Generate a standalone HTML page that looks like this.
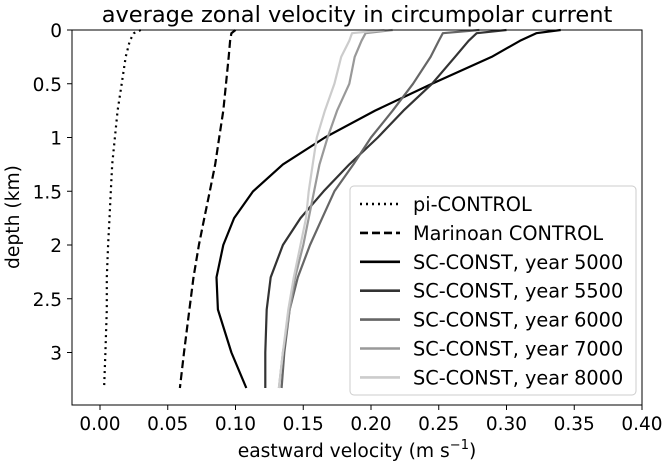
<!DOCTYPE html>
<html><head><meta charset="utf-8"><style>
body{margin:0;background:#fff}
svg text{font-family:"DejaVu Sans","Liberation Sans",sans-serif;fill:#000}
</style></head><body>
<svg id="chart" width="669" height="465" viewBox="0 0 669 465">
<text x="357" y="22" text-anchor="middle" font-size="22.5">average zonal velocity in circumpolar current</text>
<g id="series"></g>
<rect x="72" y="30" width="570" height="375" fill="none" stroke="#000" stroke-width="1"/>
<g id="xticks"></g>
<g id="yticks"></g>
<text x="357" y="457" text-anchor="middle" font-size="18.7">eastward velocity (m s<tspan dy="-8" font-size="13">−1</tspan><tspan dy="8">)</tspan></text>
<text transform="translate(19,217) rotate(-90)" text-anchor="middle" font-size="18.7">depth (km)</text>
<g id="legend"></g>
</svg>
<script>
const depths=[0,0.03,0.1,0.25,0.5,0.75,1.0,1.25,1.5,1.75,2.0,2.3,2.6,3.0,3.33];
const piControl=[0.030,0.025,0.022,0.019,0.016,0.013,0.011,0.009,0.008,0.007,0.006,0.005,0.005,0.004,0.003];
const marinoan=[0.100,0.097,0.096,0.095,0.093,0.091,0.088,0.085,0.081,0.077,0.073,0.069,0.066,0.062,0.059];
const y5000=[0.340,0.322,0.310,0.289,0.245,0.203,0.166,0.135,0.113,0.099,0.091,0.086,0.087,0.097,0.108];
const y5500=[0.300,0.278,0.272,0.262,0.245,0.224,0.205,0.184,0.165,0.148,0.135,0.126,0.123,0.122,0.122];
const y6000=[0.280,0.253,0.250,0.244,0.231,0.216,0.200,0.187,0.173,0.164,0.155,0.146,0.140,0.136,0.134];
const y7000=[0.216,0.196,0.193,0.188,0.184,0.175,0.168,0.162,0.158,0.154,0.150,0.144,0.140,0.135,0.132];
const y8000=[0.210,0.186,0.184,0.178,0.173,0.166,0.160,0.157,0.154,0.152,0.148,0.143,0.139,0.135,0.132];
const seriesNames=["pi-CONTROL","Marinoan CONTROL","SC-CONST, year 5000","SC-CONST, year 5500","SC-CONST, year 6000","SC-CONST, year 7000","SC-CONST, year 8000"];
const xTicks=[0,0.05,0.10,0.15,0.20,0.25,0.30,0.35,0.40];
const yTicks=[0,0.5,1,1.5,2,2.5,3];
const yTickLabels=["0","0.5","1","1.5","2","2.5","3"];

const NS="http://www.w3.org/2000/svg";
const X=v=>100+v/0.05*67.75;
const Y=d=>30+d*107.5;
const styles=[
 {c:"#000",dash:"2,4",w:2.2},{c:"#000",dash:"8,4",w:2.2},{c:"#000",dash:"",w:2.2},
 {c:"#333",dash:"",w:2.2},{c:"#666",dash:"",w:2.2},{c:"#999",dash:"",w:2.2},{c:"#ccc",dash:"",w:2.2}];
const allSeries=[piControl,marinoan,y5000,y5500,y6000,y7000,y8000];
const g=document.getElementById("series");
allSeries.forEach((s,i)=>{
 const p=document.createElementNS(NS,"polyline");
 p.setAttribute("points",s.map((v,k)=>X(v).toFixed(1)+","+Y(depths[k]).toFixed(1)).join(" "));
 p.setAttribute("fill","none");p.setAttribute("stroke",styles[i].c);
 p.setAttribute("stroke-width",styles[i].w);p.setAttribute("stroke-linejoin","round");
 if(styles[i].dash)p.setAttribute("stroke-dasharray",styles[i].dash);
 
 
 g.appendChild(p);
});
const xg=document.getElementById("xticks");
xTicks.forEach(t=>{
 const l=document.createElementNS(NS,"line");
 l.setAttribute("x1",X(t));l.setAttribute("x2",X(t));l.setAttribute("y1",405);l.setAttribute("y2",410);l.setAttribute("stroke","#000");
 
 
 xg.appendChild(l);
 const tx=document.createElementNS(NS,"text");
 tx.setAttribute("x",X(t));tx.setAttribute("y",430);tx.setAttribute("text-anchor","middle");tx.setAttribute("font-size","18.5");
 tx.textContent=t.toFixed(2);
 
 
 xg.appendChild(tx);
});
const yg=document.getElementById("yticks");
yTicks.forEach((t,i)=>{
 const l=document.createElementNS(NS,"line");
 l.setAttribute("x1",67);l.setAttribute("x2",72);l.setAttribute("y1",Y(t));l.setAttribute("y2",Y(t));l.setAttribute("stroke","#000");
 
 
 yg.appendChild(l);
 const tx=document.createElementNS(NS,"text");
 tx.setAttribute("x",62);tx.setAttribute("y",Y(t)+7);tx.setAttribute("text-anchor","end");tx.setAttribute("font-size","18.5");
 tx.textContent=yTickLabels[i];
 
 
 yg.appendChild(tx);
});
const lg=document.getElementById("legend");
const box=document.createElementNS(NS,"rect");
box.setAttribute("x",350);box.setAttribute("y",186);box.setAttribute("width",286);box.setAttribute("height",209);box.setAttribute("rx",4);
box.setAttribute("fill","#fff");box.setAttribute("fill-opacity","0.8");box.setAttribute("stroke","#ccc");


lg.appendChild(box);
seriesNames.forEach((n,i)=>{
 const yy=204+i*28.9;
 const l=document.createElementNS(NS,"line");
 l.setAttribute("x1",360);l.setAttribute("x2",400);l.setAttribute("y1",yy);l.setAttribute("y2",yy);
 l.setAttribute("stroke",styles[i].c);l.setAttribute("stroke-width",styles[i].w+0.4);
 if(styles[i].dash)l.setAttribute("stroke-dasharray",styles[i].dash);
 
 
 lg.appendChild(l);
 const tx=document.createElementNS(NS,"text");
 tx.setAttribute("x",413);tx.setAttribute("y",yy+7);tx.setAttribute("font-size","19.3");
 tx.textContent=n;
 
 
 lg.appendChild(tx);
});
</script>
</body></html>
